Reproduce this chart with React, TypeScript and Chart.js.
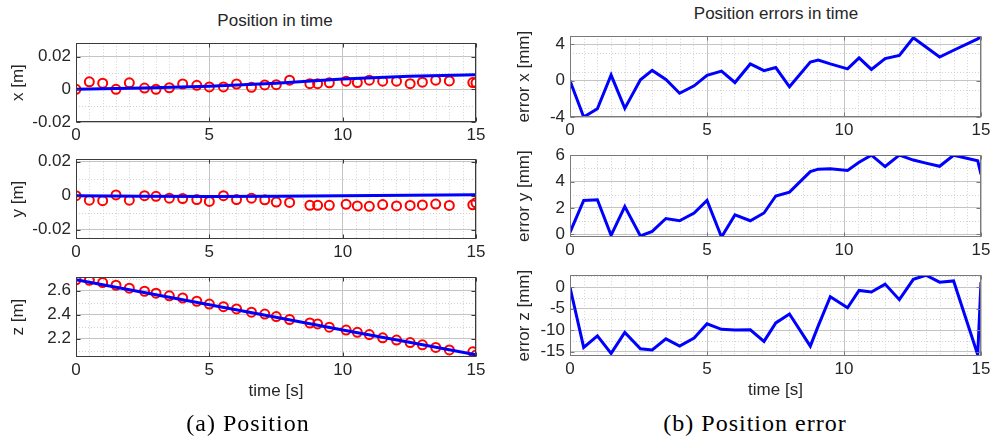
import React, { useEffect, useRef } from 'react';
import { Chart, registerables } from 'chart.js';

Chart.register(...registerables);

// ---------- data ----------
const times = [0, 0.5, 1.0, 1.5, 2.0, 2.57, 3.0, 3.5, 4.0, 4.53, 5.0, 5.53, 6.02, 6.58, 7.08, 7.51, 8.01, 8.77, 9.06, 9.5, 10.13, 10.55, 11.0, 11.5, 12.02, 12.53, 12.99, 13.49, 14.0, 14.88, 15.0];

const posX = [0, 0.0046, 0.0038, 0, 0.004, 0.0008, 0, 0.001, 0.0033, 0.0025, 0.0015, 0.0015, 0.0033, 0.0013, 0.0027, 0.0029, 0.0056, 0.0035, 0.0035, 0.004, 0.005, 0.0042, 0.0056, 0.005, 0.005, 0.0035, 0.0044, 0.0056, 0.0052, 0.0042, 0.004];
const posY = [0, -0.0027, -0.003, 0.0004, -0.0027, 0, -0.0004, -0.0015, -0.0017, -0.0023, -0.0034, 0, -0.0023, -0.0015, -0.0025, -0.0038, -0.004, -0.0057, -0.0057, -0.0057, -0.0051, -0.0061, -0.0063, -0.0053, -0.0061, -0.0058, -0.0055, -0.005, -0.0058, -0.0054, -0.0042];
const posZ = [2.69, 2.686, 2.667, 2.645, 2.621, 2.595, 2.579, 2.557, 2.539, 2.512, 2.488, 2.467, 2.448, 2.421, 2.405, 2.384, 2.36, 2.331, 2.323, 2.296, 2.272, 2.253, 2.235, 2.208, 2.189, 2.168, 2.149, 2.128, 2.107, 2.091, 2.064];

const estTime = [0, 2.5, 5, 7.5, 10, 12.5, 15];
const estX = [0, 0.0009, 0.0019, 0.0037, 0.0063, 0.008, 0.0089];
const estY = [0, -0.0004, -0.0005, -0.0004, -0.0001, 0.0002, 0.0005];
const estZ = [2.69, 2.586, 2.482, 2.378, 2.273, 2.17, 2.066];

const errX = [0, -4.0, -3.1, 0.62, -3.05, 0.1, 1.13, 0.14, -1.38, -0.57, 0.6, 1.06, -0.2, 1.84, 1.1, 1.45, -0.67, 2.05, 2.27, 1.85, 1.3, 2.52, 1.24, 2.43, 2.79, 4.73, 3.72, 2.61, 3.35, 4.61, 4.85];
const errY = [0.15, 2.57, 2.62, -0.07, 2.1, -0.12, 0.22, 1.2, 1.03, 1.62, 2.57, -0.2, 1.47, 1.03, 1.62, 2.91, 3.2, 4.75, 4.94, 4.97, 4.85, 5.46, 6.0, 5.14, 6.0, 5.63, 5.4, 5.16, 6.0, 5.58, 4.55];
const errZ = [0, -14.0, -11.3, -15.4, -10.5, -14.3, -14.6, -12.0, -13.7, -11.8, -8.5, -9.8, -9.95, -9.9, -12.6, -8.3, -6.24, -13.7, -9.0, -2.2, -4.77, -0.75, -1.1, 0.73, -2.9, 1.85, 2.8, 1.18, 1.47, -15.7, 1.2];

const leftTitle = 'Position in time';
const rightTitle = 'Position errors in time';
const captionA = '(a) Position';
const captionB = '(b) Position error';

// ---------- styling ----------
const SANS = "'Liberation Sans', Arial, Helvetica, sans-serif";
const SERIF = "'Liberation Serif', 'Times New Roman', serif";
const TEXT = '#262626';
const MAJOR = '#c4c4c4';
const MINOR = '#d2d2d2';
const RED = '#ff0000';
const BLUE = '#0000ff';

const pts = (xs: number[], ys: number[]) => xs.map((x, i) => ({ x, y: ys[i] }));

const frame = {
  id: 'matlabFrame',
  beforeDatasetsDraw(chart: any, _a: any, o: any) {
    const { ctx, chartArea: a, scales } = chart;
    const xs = scales.x;
    const ys = scales.y;
    ctx.save();
    ctx.beginPath();
    ctx.rect(a.left, a.top, a.right - a.left, a.bottom - a.top);
    ctx.clip();
    ctx.strokeStyle = MINOR;
    ctx.lineWidth = 1;
    ctx.setLineDash([1, 2]);
    const isMajor = (v: number, step: number) => Math.abs(v / step - Math.round(v / step)) < 1e-6;
    for (let i = Math.ceil(xs.min / o.minorX - 1e-9); i * o.minorX <= xs.max + 1e-9; i++) {
      const v = i * o.minorX;
      if (isMajor(v, o.majorX)) continue;
      const px = Math.round(xs.getPixelForValue(v)) + 0.5;
      ctx.beginPath();
      ctx.moveTo(px, a.top);
      ctx.lineTo(px, a.bottom);
      ctx.stroke();
    }
    for (let i = Math.ceil(ys.min / o.minorY - 1e-9); i * o.minorY <= ys.max + 1e-9; i++) {
      const v = i * o.minorY;
      if (isMajor(v, o.majorY)) continue;
      const py = Math.round(ys.getPixelForValue(v)) + 0.5;
      ctx.beginPath();
      ctx.moveTo(a.left, py);
      ctx.lineTo(a.right, py);
      ctx.stroke();
    }
    ctx.restore();
  },
  afterDraw(chart: any, _a: any, o: any) {
    const { ctx, chartArea: a, scales } = chart;
    ctx.save();
    ctx.strokeStyle = o.box;
    ctx.lineWidth = 1;
    ctx.setLineDash([]);
    const l = Math.round(a.left) + 0.5;
    const r = Math.round(a.right) - 0.5;
    const t = Math.round(a.top) + 0.5;
    const b = Math.round(a.bottom) - 0.5;
    ctx.strokeRect(l, t, r - l, b - t);
    const len = 4;
    ctx.beginPath();
    scales.x.ticks.forEach((tk: any) => {
      const px = Math.round(scales.x.getPixelForValue(tk.value)) + 0.5;
      ctx.moveTo(px, b); ctx.lineTo(px, b - len);
      ctx.moveTo(px, t); ctx.lineTo(px, t + len);
    });
    scales.y.ticks.forEach((tk: any) => {
      const py = Math.round(scales.y.getPixelForValue(tk.value)) + 0.5;
      ctx.moveTo(l, py); ctx.lineTo(l + len, py);
      ctx.moveTo(r, py); ctx.lineTo(r - len, py);
    });
    ctx.stroke();
    ctx.restore();
  },
};

interface Spec {
  left: number; top: number; width: number; height: number;
  padTop: number; padRight: number; yWidth: number; xHeight: number;
  yMin: number; yMax: number; yStep: number; yMinor: number;
  yTitle: string; yTitlePad: number; xTitle?: string; box: string;
  datasets: any[];
}

function Panel({ spec }: { spec: Spec }) {
  const ref = useRef<HTMLCanvasElement | null>(null);
  useEffect(() => {
    if (!ref.current) return;
    const font = { family: SANS, size: 17 };
    const chart = new Chart(ref.current, {
      type: 'scatter',
      data: { datasets: spec.datasets },
      options: {
        responsive: false,
        animation: false,
        devicePixelRatio: 1,
        layout: { padding: { top: spec.padTop, right: spec.padRight, left: 0, bottom: 0 } },
        plugins: {
          legend: { display: false },
          tooltip: { enabled: false },
          matlabFrame: { minorX: 0.5, majorX: 5, minorY: spec.yMinor, majorY: spec.yStep, box: spec.box },
        } as any,
        scales: {
          x: {
            type: 'linear',
            min: 0,
            max: 15,
            ticks: { stepSize: 5, font, color: TEXT, padding: 3, maxRotation: 0, includeBounds: false },
            grid: { color: MAJOR, drawTicks: false, lineWidth: 1 },
            border: { display: false },
            title: spec.xTitle
              ? { display: true, text: spec.xTitle, font, color: TEXT, padding: { top: 0, bottom: 3 } }
              : { display: false },
            afterFit: (s: any) => { s.height = spec.xHeight; },
          },
          y: {
            type: 'linear',
            min: spec.yMin,
            max: spec.yMax,
            ticks: { stepSize: spec.yStep, font, color: TEXT, padding: 5, includeBounds: false },
            grid: { color: MAJOR, drawTicks: false, lineWidth: 1 },
            border: { display: false },
            title: { display: true, text: spec.yTitle, font, color: TEXT, padding: { top: spec.yTitlePad, bottom: 0 } },
            afterFit: (s: any) => { s.width = spec.yWidth; },
          },
        },
      } as any,
      plugins: [frame],
    });
    return () => chart.destroy();
  }, []);
  return (
    <canvas
      ref={ref}
      width={spec.width}
      height={spec.height}
      style={{ position: 'absolute', left: spec.left, top: spec.top, width: spec.width, height: spec.height }}
    />
  );
}

const measSet = (ys: number[]) => ({
  data: pts(times, ys),
  showLine: false,
  pointStyle: 'circle',
  pointRadius: 4.5,
  pointBorderWidth: 2,
  pointBorderColor: RED,
  pointBackgroundColor: 'rgba(0,0,0,0)',
  borderColor: RED,
  backgroundColor: 'rgba(0,0,0,0)',
});
const lineSet = (xs: number[], ys: number[]) => ({
  data: pts(xs, ys),
  showLine: true,
  pointRadius: 0,
  borderColor: BLUE,
  borderWidth: 3,
  backgroundColor: BLUE,
  tension: 0,
});

const L = { left: 0, width: 494, padRight: 18, yWidth: 76, yTitlePad: 8, box: '#3a3a3a' };
const R = { left: 494, width: 500, padRight: 13, yWidth: 76, yTitlePad: 20, box: '#7a7a7a' };

const specs: Spec[] = [
  { ...L, top: 28, height: 117, padTop: 12, xHeight: 23, yMin: -0.02, yMax: 0.0283, yStep: 0.02, yMinor: 0.01, yTitle: 'x [m]', datasets: [lineSet(estTime, estX), measSet(posX)] },
  { ...L, top: 144, height: 118, padTop: 12, xHeight: 23, yMin: -0.0256, yMax: 0.0215, yStep: 0.02, yMinor: 0.01, yTitle: 'y [m]', datasets: [lineSet(estTime, estY), measSet(posY)] },
  { ...L, top: 262, height: 143, padTop: 12, xHeight: 48, yMin: 2.048, yMax: 2.712, yStep: 0.2, yMinor: 0.1, yTitle: 'z [m]', xTitle: 'time [s]', datasets: [lineSet(estTime, estZ), measSet(posZ)] },
  { ...R, top: 21, height: 119, padTop: 12, xHeight: 23, yMin: -4, yMax: 4.9, yStep: 2, yMinor: 1, yTitle: 'error x [mm]', datasets: [lineSet(times, errX)] },
  { ...R, top: 140, height: 120, padTop: 12, xHeight: 23, yMin: -0.2, yMax: 6, yStep: 2, yMinor: 1, yTitle: 'error y [mm]', datasets: [lineSet(times, errY)] },
  { ...R, top: 260, height: 144, padTop: 12, xHeight: 48, yMin: -16, yMax: 2.8, yStep: 5, yMinor: 2.5, yTitle: 'error z [mm]', xTitle: 'time [s]', datasets: [lineSet(times, errZ)] },
];

const textStyle = (cx: number, cy: number, font: string, size: number, extra: any = {}) => ({
  position: 'absolute' as const,
  left: cx - 200,
  width: 400,
  top: cy - 14,
  height: 28,
  lineHeight: '28px',
  textAlign: 'center' as const,
  fontFamily: font,
  fontSize: size,
  color: TEXT,
  whiteSpace: 'nowrap' as const,
  ...extra,
});

export default function App() {
  return (
    <div style={{ position: 'fixed', left: 0, top: 0, width: 994, height: 441, background: '#ffffff', overflow: 'hidden' }}>
      <div style={textStyle(275, 20.5, SANS, 17)}>{leftTitle}</div>
      <div style={textStyle(776, 13.5, SANS, 17)}>{rightTitle}</div>
      {specs.map((s, i) => <Panel key={i} spec={s} />)}
      <div style={textStyle(248, 423, SERIF, 24, { color: '#000', letterSpacing: '1px' })}>{captionA}</div>
      <div style={textStyle(755, 423, SERIF, 24, { color: '#000', letterSpacing: '1px' })}>{captionB}</div>
    </div>
  );
}
